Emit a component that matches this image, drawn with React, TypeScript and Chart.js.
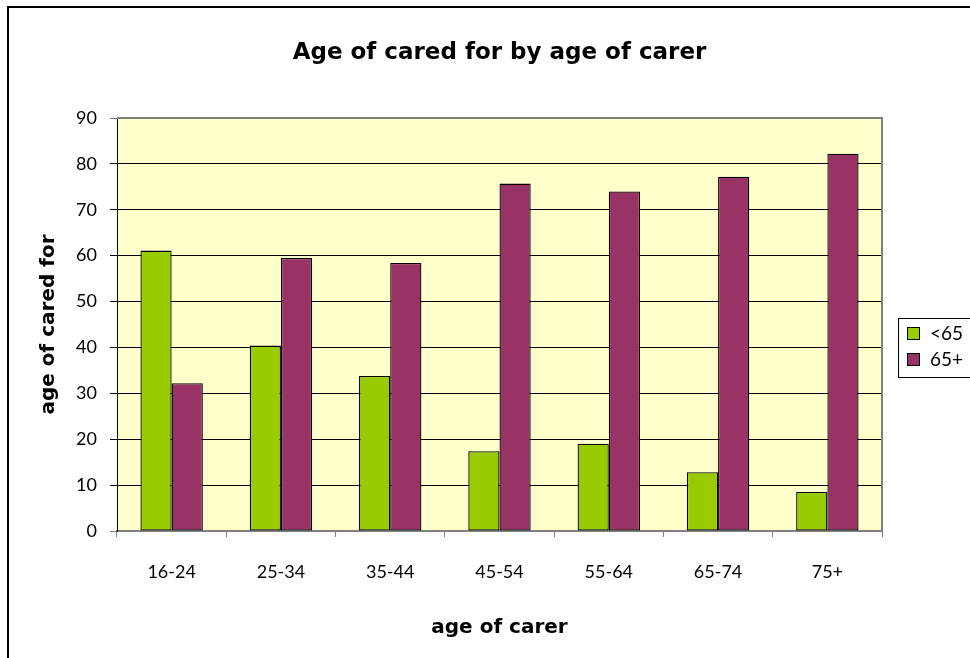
import React, { useEffect, useRef } from "react";
import { Chart, registerables } from "chart.js";

Chart.register(...registerables);

const chartTitle = "Age of cared for by age of carer";
const xTitle = "age of carer";
const yTitle = "age of cared for";
const categories = ["16-24", "25-34", "35-44", "45-54", "55-64", "65-74", "75+"];
const seriesLabels = ["<65", "65+"];
const under65 = [61.1, 40.4, 33.8, 17.4, 19.0, 12.8, 8.5];
const over65 = [32.2, 59.5, 58.4, 75.7, 74.0, 77.2, 82.2];
const yMin = 0;
const yMax = 90;
const yStep = 10;

const FONT = "Lato, 'Open Sans', sans-serif";
const BOLD_FONT = "'DejaVu Sans', Verdana, sans-serif";

const framePlugin = {
  id: "frame",
  beforeDraw(chart: any) {
    const { ctx, chartArea } = chart;
    ctx.save();
    ctx.fillStyle = "#ffffff";
    ctx.fillRect(0, 0, chart.width, chart.height);
    ctx.fillStyle = "#000000";
    ctx.fillRect(7, 6, 2, chart.height);
    ctx.fillRect(7, 6, chart.width, 2);
    ctx.fillStyle = "#FFFFCC";
    ctx.fillRect(chartArea.left, chartArea.top, chartArea.right - chartArea.left, chartArea.bottom - chartArea.top);
    ctx.restore();
  },
  beforeDatasetsDraw(chart: any) {
    const { ctx, chartArea } = chart;
    ctx.save();
    ctx.strokeStyle = "#808080";
    ctx.lineWidth = 2;
    ctx.beginPath();
    ctx.moveTo(chartArea.left, chartArea.top);
    ctx.lineTo(chartArea.right, chartArea.top);
    ctx.lineTo(chartArea.right, chartArea.bottom);
    ctx.stroke();
    ctx.restore();
  },
  afterDraw(chart: any) {
    const { ctx } = chart;
    ctx.save();
    ctx.strokeStyle = "#000000";
    ctx.lineWidth = 1;
    ctx.fillStyle = "#ffffff";
    ctx.fillRect(898.5, 318.5, 100, 59);
    ctx.strokeRect(898.5, 318.5, 100, 59);
    chart.data.datasets.forEach((ds: any, i: number) => {
      const cy = 334 + i * 26;
      ctx.fillStyle = ds.backgroundColor;
      ctx.fillRect(907.5, cy - 6.5, 12, 12);
      ctx.strokeRect(907.5, cy - 6.5, 12, 12);
      ctx.fillStyle = "#000000";
      ctx.font = `19px ${FONT}`;
      ctx.textBaseline = "middle";
      ctx.textAlign = "left";
      ctx.fillText(ds.label, 930, cy);
    });
    ctx.restore();
  },
};

export default function App() {
  const ref = useRef<HTMLCanvasElement | null>(null);

  useEffect(() => {
    if (!ref.current) return;
    const chart = new Chart(ref.current, {
      type: "bar",
      data: {
        labels: categories,
        datasets: [
          {
            label: seriesLabels[0],
            data: under65,
            backgroundColor: "#99CC00",
            borderColor: "#000000",
            borderWidth: 1.3,
            borderSkipped: false,
            barPercentage: 1,
            categoryPercentage: 0.571,
          },
          {
            label: seriesLabels[1],
            data: over65,
            backgroundColor: "#993366",
            borderColor: "#000000",
            borderWidth: 1.3,
            borderSkipped: false,
            barPercentage: 1,
            categoryPercentage: 0.571,
          },
        ],
      },
      options: {
        responsive: false,
        animation: false,
        layout: { padding: { left: 0, right: 88, top: 0, bottom: 0 } },
        plugins: {
          legend: { display: false },
          tooltip: { enabled: false },
          title: {
            display: true,
            text: chartTitle,
            fullSize: false,
            color: "#000000",
            font: { family: BOLD_FONT, size: 23, weight: "bold" },
            padding: { top: 39, bottom: 51.4 },
          },
        },
        scales: {
          x: {
            afterFit(scale: any) {
              scale.height = 127;
            },
            grid: {
              drawOnChartArea: false,
              drawTicks: true,
              tickLength: 6,
              color: "#808080",
              offset: true,
            },
            border: { display: true, color: "#808080", width: 2 },
            ticks: {
              color: "#000000",
              font: { family: FONT, size: 18 },
              padding: 24,
              maxRotation: 0,
            },
            title: {
              display: true,
              text: xTitle,
              color: "#000000",
              font: { family: BOLD_FONT, size: 20, weight: "bold" },
              padding: { top: 0, bottom: 18 },
            },
          },
          y: {
            min: yMin,
            max: yMax,
            afterFit(scale: any) {
              scale.width = 117;
            },
            grid: {
              color: (c: any) =>
                c.tick && (c.tick.value === yMax || c.tick.value === yMin) ? "#808080" : "#000000",
              tickLength: 7,
              lineWidth: 1,
            },
            border: { display: true, color: "#000000", width: 1 },
            ticks: {
              stepSize: yStep,
              color: "#000000",
              font: { family: FONT, size: 18 },
              padding: 13,
            },
            title: {
              display: true,
              text: yTitle,
              color: "#000000",
              font: { family: BOLD_FONT, size: 20, weight: "bold" },
              padding: { top: 37, bottom: 0 },
            },
          },
        },
      },
      plugins: [framePlugin],
    });
    return () => chart.destroy();
  }, []);

  return (
    <div style={{ position: "fixed", left: 0, top: 0, width: 970, height: 658, overflow: "hidden", background: "#fff" }}>
      <canvas ref={ref} width={970} height={658} style={{ display: "block", width: 970, height: 658 }} />
    </div>
  );
}
